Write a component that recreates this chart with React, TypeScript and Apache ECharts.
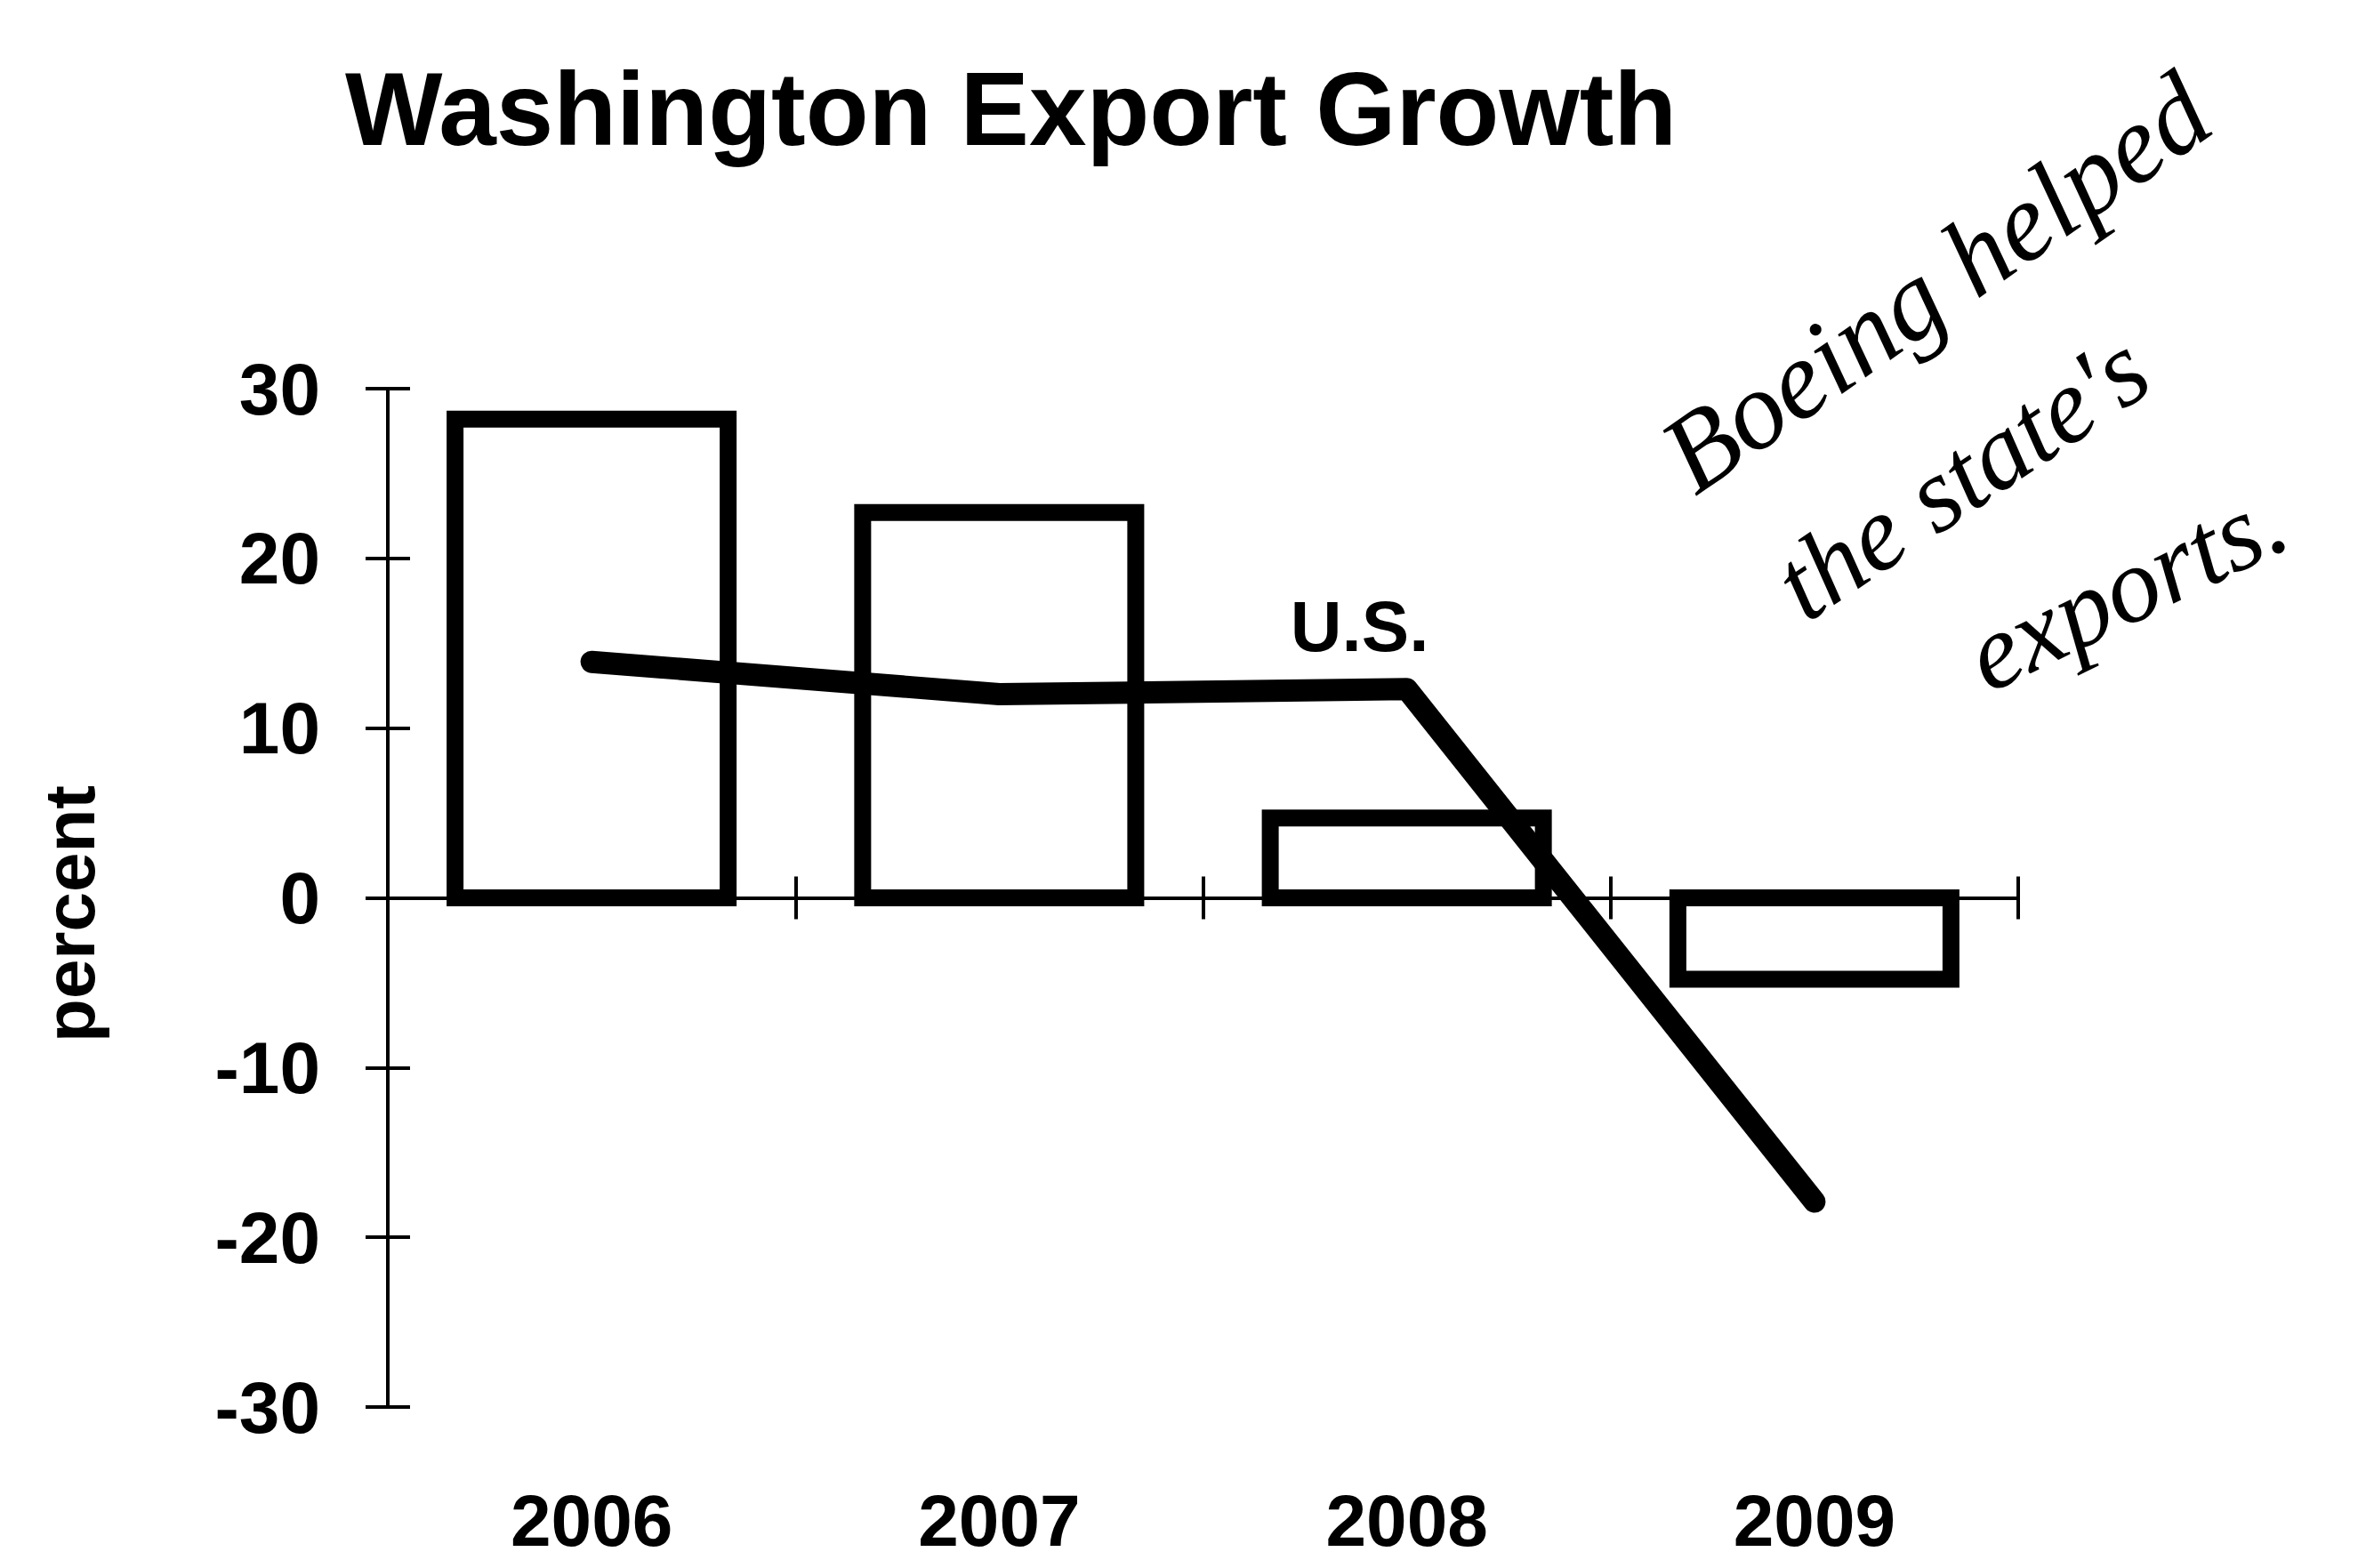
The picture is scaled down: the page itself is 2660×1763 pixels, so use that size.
import React, { useEffect, useRef } from "react";
import * as echarts from "echarts";

const years = ["2006", "2007", "2008", "2009"];
const washingtonGrowth = [28.2, 22.7, 4.7, -4.8];
const usGrowth = [13.9, 12.0, 12.3, -17.9];
const yMin = -30;
const yMax = 30;
const yInterval = 10;
const titleText = "Washington Export Growth";
const yName = "percent";
const usLabel = "U.S.";
const noteLines = ["Boeing helped", "the state's", "exports."];

const FONT = "'Liberation Sans', Arial, Helvetica, sans-serif";
const HAND = "'Liberation Serif', 'DejaVu Serif', serif";

export default function App() {
  const ref = useRef<HTMLDivElement>(null);
  useEffect(() => {
    if (!ref.current) return;
    const chart = echarts.init(ref.current, null, { renderer: "svg" });
    const axisLineStyle = { color: "#000", width: 4 };
    const option: any = {
      animation: false,
      backgroundColor: "#fff",
      title: {
        text: titleText,
        left: 383,
        top: 60,
        textStyle: { fontFamily: FONT, fontWeight: "bold", fontSize: 116, color: "#000" },
      },
      grid: {
        left: 436,
        right: 391,
        top: 437,
        bottom: 181,
        containLabel: false,
        outerBoundsMode: "none",
      },
      xAxis: [
        {
          type: "category",
          data: years,
          position: "bottom",
          axisLine: { onZero: true, lineStyle: axisLineStyle },
          axisTick: { show: true, length: 24, inside: false, lineStyle: axisLineStyle },
          axisLabel: { show: false },
          splitLine: { show: false },
        },
        {
          type: "category",
          data: years,
          position: "bottom",
          axisLine: { onZero: true, lineStyle: axisLineStyle },
          axisTick: { show: true, length: 24, inside: true, lineStyle: axisLineStyle },
          axisLabel: { show: false },
          splitLine: { show: false },
        },
        {
          type: "category",
          data: years,
          position: "bottom",
          axisLine: { show: false, onZero: false },
          axisTick: { show: false },
          axisLabel: {
            show: true,
            margin: 86,
            fontFamily: FONT,
            fontWeight: "bold",
            fontSize: 82,
            color: "#000",
          },
          splitLine: { show: false },
        },
      ],
      yAxis: [
        {
          type: "value",
          min: yMin,
          max: yMax,
          interval: yInterval,
          position: "left",
          name: yName,
          nameLocation: "middle",
          nameRotate: 90,
          nameGap: 318,
          nameTextStyle: {
            fontFamily: FONT,
            fontWeight: "bold",
            fontSize: 80,
            color: "#000",
            padding: [0, 36, 0, 0],
          },
          axisLine: { show: true, lineStyle: axisLineStyle },
          axisTick: { show: true, length: 25, inside: false, lineStyle: axisLineStyle },
          axisLabel: {
            margin: 76,
            fontFamily: FONT,
            fontWeight: "bold",
            fontSize: 82,
            color: "#000",
          },
          splitLine: { show: false },
        },
        {
          type: "value",
          min: yMin,
          max: yMax,
          interval: yInterval,
          position: "left",
          axisLine: { show: true, lineStyle: axisLineStyle },
          axisTick: { show: true, length: 25, inside: true, lineStyle: axisLineStyle },
          axisLabel: { show: false },
          splitLine: { show: false },
        },
      ],
      series: [
        {
          type: "custom",
          name: "Washington",
          xAxisIndex: 0,
          yAxisIndex: 0,
          data: washingtonGrowth.map((v, i) => [i, v]),
          encode: { x: 0, y: 1 },
          z: 2,
          renderItem: (params: any, api: any) => {
            const idx = api.value(0);
            const val = api.value(1);
            const p0 = api.coord([idx, 0]);
            const p1 = api.coord([idx, val]);
            const bw = api.size([1, 0])[0] * 0.67;
            return {
              type: "rect",
              shape: {
                x: p0[0] - bw / 2,
                y: Math.min(p0[1], p1[1]),
                width: bw,
                height: Math.abs(p1[1] - p0[1]),
              },
              style: { fill: "#fff", stroke: "#000", lineWidth: 19 },
            };
          },
        },
        {
          type: "line",
          name: "U.S.",
          xAxisIndex: 0,
          yAxisIndex: 0,
          data: usGrowth.map((v, i) =>
            i === 2
              ? {
                  value: v,
                  label: {
                    show: true,
                    formatter: usLabel,
                    position: "top",
                    distance: 0,
                    offset: [-53, -30],
                    fontFamily: FONT,
                    fontWeight: "bold",
                    fontSize: 80,
                    color: "#000",
                  },
                }
              : v
          ),
          showSymbol: true,
          symbol: "circle",
          symbolSize: 1,
          itemStyle: { color: "#000" },
          label: { show: false },
          lineStyle: { color: "#000", width: 25, cap: "round", join: "round" },
          z: 5,
        },
      ],
      graphic: [
        {
          type: "text",
          x: 2176,
          y: 318,
          rotation: (35 * Math.PI) / 180,
          style: {
            text: noteLines[0],
            font: `italic 125px ${HAND}`,
            fill: "#000",
            align: "center",
            verticalAlign: "middle",
          },
        },
        {
          type: "text",
          x: 2205,
          y: 535,
          rotation: (34 * Math.PI) / 180,
          style: {
            text: noteLines[1],
            font: `italic 120px ${HAND}`,
            fill: "#000",
            align: "center",
            verticalAlign: "middle",
          },
        },
        {
          type: "text",
          x: 2390,
          y: 660,
          rotation: (26 * Math.PI) / 180,
          style: {
            text: noteLines[2],
            font: `italic 120px ${HAND}`,
            fill: "#000",
            align: "center",
            verticalAlign: "middle",
          },
        },
      ],
    };
    chart.setOption(option);
    return () => chart.dispose();
  }, []);
  return (
    <div
      ref={ref}
      style={{ position: "fixed", left: 0, top: 0, width: 2660, height: 1763, background: "#fff" }}
    />
  );
}
